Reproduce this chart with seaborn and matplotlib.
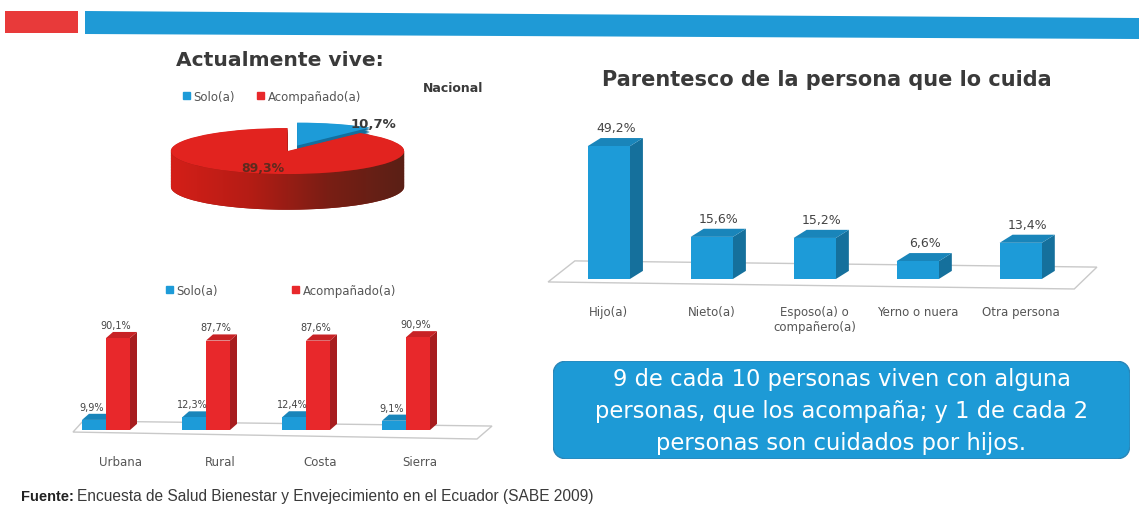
import numpy as np
import pandas as pd
import matplotlib
matplotlib.use('Agg')
import matplotlib.pyplot as plt
import matplotlib.colors as mcolors
from matplotlib.patches import Polygon, Rectangle, FancyBboxPatch
from matplotlib.transforms import ScaledTranslation
import seaborn as sns

# datos
pie_labels = ['Solo(a)', 'Acompañado(a)']
pie_values = [10.7, 89.3]

regiones = ['Urbana', 'Rural', 'Costa', 'Sierra']
solo = [9.9, 12.3, 12.4, 9.1]
acompanado = [90.1, 87.7, 87.6, 90.9]

parentesco = ['Hijo(a)', 'Nieto(a)', 'Esposo(a) o\ncompañero(a)', 'Yerno o nuera', 'Otra persona']
parentesco_pct = [49.2, 15.6, 15.2, 6.6, 13.4]

BLUE = '#1d9bd8'
RED = '#e8282b'
PIE_RED = '#e2231f'
PIE_RED_DARK = '#8e1a12'
BLUE_DARK = '#136f9e'
TXT = '#3a3a3a'

sns.set_theme(style='white')
plt.rcParams['font.family'] = ['DejaVu Sans']

W, H = 1139, 506
fig = plt.figure(figsize=(W / 100, H / 100), dpi=100)


def px_axes(x0, y0, x1, y1):
    return fig.add_axes([x0 / W, 1 - y1 / H, (x1 - x0) / W, (y1 - y0) / H])


def fmt(v):
    return f"{v:.1f}".replace('.', ',') + '%'


def bars_of(ax):
    return [p for p in ax.patches if isinstance(p, Rectangle)]


def extrude(ax, dx, dy):
    # caras lateral y superior para simular 3D
    for p in bars_of(ax):
        x0, w, h = p.get_x(), p.get_width(), p.get_height()
        x1 = x0 + w
        fc = np.array(mcolors.to_rgb(p.get_facecolor()))
        ax.add_patch(Polygon([(x1, 0), (x1 + dx, dy), (x1 + dx, h + dy), (x1, h)],
                             closed=True, fc=fc * 0.72, lw=0, zorder=0.8))
        ax.add_patch(Polygon([(x0, h), (x0 + dx, h + dy), (x1 + dx, h + dy), (x1, h)],
                             closed=True, fc=fc * 0.86, lw=0, zorder=0.8))
        p.set_zorder(1)


# franja superior
fig.add_artist(Rectangle((5 / W, 1 - 34 / H), 73 / W, 22 / H, transform=fig.transFigure,
                         color='#e83a3a', lw=0))
fig.add_artist(Polygon([(85 / W, 1 - 12 / H), (1, 1 - 19 / H), (1, 1 - 40 / H), (85 / W, 1 - 35 / H)],
                       closed=True, transform=fig.transFigure, color='#1f9ad6', lw=0))

# ---- pastel nacional ----
fig.text(176 / W, 1 - 61 / H, 'Actualmente vive:', fontsize=14.6, weight='bold', va='center', color=TXT)
fig.text(423 / W, 1 - 89 / H, 'Nacional', fontsize=9, weight='bold', va='center', color=TXT)
handles = [Rectangle((0, 0), 1, 1, color=BLUE), Rectangle((0, 0), 1, 1, color=RED)]
fig.legend(handles, pie_labels, loc='center left', bbox_to_anchor=(172 / W, 1 - 97 / H), ncol=2,
           frameon=False, fontsize=8.5, handlelength=0.6, handleheight=0.6, handletextpad=0.3,
           columnspacing=1.9, labelcolor='#555555')

axp = px_axes(165, 112, 410, 222)
depth = 1.55
steps = 24
for d in np.linspace(depth, 0.02, steps):
    axp.pie(pie_values, colors=[BLUE_DARK, PIE_RED_DARK], startangle=90, counterclock=False,
            explode=[0.25, 0], center=(0, -d), wedgeprops=dict(linewidth=0, zorder=1))
# degradado del costado
t = np.linspace(np.pi, 2 * np.pi, 100)
side = np.vstack([np.column_stack([np.cos(t), np.sin(t)]),
                  np.column_stack([np.cos(t[::-1]), np.sin(t[::-1]) - depth])])
side_patch = Polygon(side, closed=True, transform=axp.transData, fc='none', lw=0)
axp.add_patch(side_patch)
side_cmap = mcolors.LinearSegmentedColormap.from_list('lado', ['#d41f18', '#b51c15', '#7a1e14', '#5a2016'])
img = axp.imshow(np.linspace(0, 1, 256)[None, :], cmap=side_cmap, extent=(-1, 1, -depth - 1, 0.05),
                 aspect='auto', zorder=1.5)
img.set_clip_path(side_patch)
axp.pie(pie_values, colors=[BLUE, PIE_RED], startangle=90, counterclock=False, explode=[0.25, 0],
        wedgeprops=dict(linewidth=0, zorder=2))
axp.set_aspect('auto')
axp.set_xlim(-1.05, 1.05)
axp.set_ylim(-3.04, 1.74)
axp.axis('off')
fig.text(373 / W, 1 - 125 / H, fmt(pie_values[0]), fontsize=9.5, weight='bold', ha='center', va='center', color=TXT)
fig.text(263 / W, 1 - 168 / H, fmt(pie_values[1]), fontsize=9, weight='bold', ha='center', va='center', color='#5e2a1e')

# ---- barras por region ----
fig.legend(handles, pie_labels, loc='center left', bbox_to_anchor=(155 / W, 1 - 291 / H), ncol=2,
           frameon=False, fontsize=8.5, handlelength=0.6, handleheight=0.6, handletextpad=0.3,
           columnspacing=6.3, labelcolor='#555555')
ax2 = px_axes(60, 320, 495, 445)
df_reg = pd.DataFrame({'region': regiones * 2,
                       'tipo': [pie_labels[0]] * 4 + [pie_labels[1]] * 4,
                       'valor': solo + acompanado})
sns.barplot(data=df_reg, x='region', y='valor', hue='tipo', palette=[BLUE, RED], width=0.48,
            saturation=1, ax=ax2, legend=False, linewidth=0)
ax2.add_patch(Polygon([(-0.33, -2), (-0.23, 8.8), (3.86, 3.9), (3.71, -8.8)], closed=True,
                      fc='white', ec='#c9c9c9', lw=1, zorder=0.5))
extrude(ax2, 0.07, 6)
for p, v in zip(bars_of(ax2), solo + acompanado):
    ax2.text(p.get_x() + p.get_width() / 2 - 0.02, v + 8, fmt(v), ha='center', va='bottom',
             fontsize=7, color='#444444')
ax2.set_xlim(-0.46, 3.89)
ax2.set_ylim(-13.7, 108.8)
ax2.set_xlabel('')
ax2.set_ylabel('')
ax2.set_yticks([])
ax2.tick_params(axis='x', length=0, pad=8, labelsize=8.5, labelcolor='#555555')
for lab in ax2.get_xticklabels():
    lab.set_transform(lab.get_transform() + ScaledTranslation(0.14, 0, fig.dpi_scale_trans))
sns.despine(ax=ax2, left=True, bottom=True)

# ---- parentesco ----
fig.text(827 / W, 1 - 80 / H, 'Parentesco de la persona que lo cuida', ha='center', va='center',
         fontsize=15, weight='bold', color=TXT)
ax3 = px_axes(545, 125, 1100, 295)
sns.barplot(x=parentesco, y=parentesco_pct, color=BLUE, width=0.41, saturation=1, ax=ax3, linewidth=0)
ax3.add_patch(Polygon([(-0.59, -1.1), (-0.33, 6.7), (4.74, 4.4), (4.52, -3.7)], closed=True,
                      fc='white', ec='#c9c9c9', lw=1, zorder=0.5))
extrude(ax3, 0.126, 3)
for p, v in zip(bars_of(ax3), parentesco_pct):
    ax3.text(p.get_x() + p.get_width() / 2 + 0.07, v + 4.5, fmt(v), ha='center', va='bottom',
             fontsize=9, color='#444444')
ax3.set_xlim(-0.62, 4.77)
ax3.set_ylim(-5.56, 57.4)
ax3.set_yticks([])
ax3.tick_params(axis='x', length=0, pad=8, labelsize=8.5, labelcolor='#555555')
sns.despine(ax=ax3, left=True, bottom=True)

# ---- recuadro ----
axb = px_axes(553, 362, 1130, 460)
axb.axis('off')
axb.add_patch(FancyBboxPatch((0, 0), 1, 1, boxstyle='round,pad=0,rounding_size=0.026',
                             mutation_aspect=577 / 98, transform=axb.transAxes,
                             fc='#1d9ad6', ec='#2a86b8', lw=1))
axb.text(0.5, 0.49, '9 de cada 10 personas viven con alguna\npersonas, que los acompaña; y 1 de cada 2\n'
         'personas son cuidados por hijos.', transform=axb.transAxes, ha='center', va='center',
         fontsize=16.3, color='white', linespacing=1.5)

# ---- fuente ----
fig.text(21 / W, 1 - 497 / H, 'Fuente:', fontsize=10.5, weight='bold', va='center',
         family='Liberation Sans', color='#222222')
fig.text(77 / W, 1 - 497 / H, 'Encuesta de Salud Bienestar y Envejecimiento en el Ecuador (SABE 2009)',
         fontsize=11.2, va='center', family='Liberation Sans', color='#3a3a3a')

fig.savefig('out.png', dpi=100)
